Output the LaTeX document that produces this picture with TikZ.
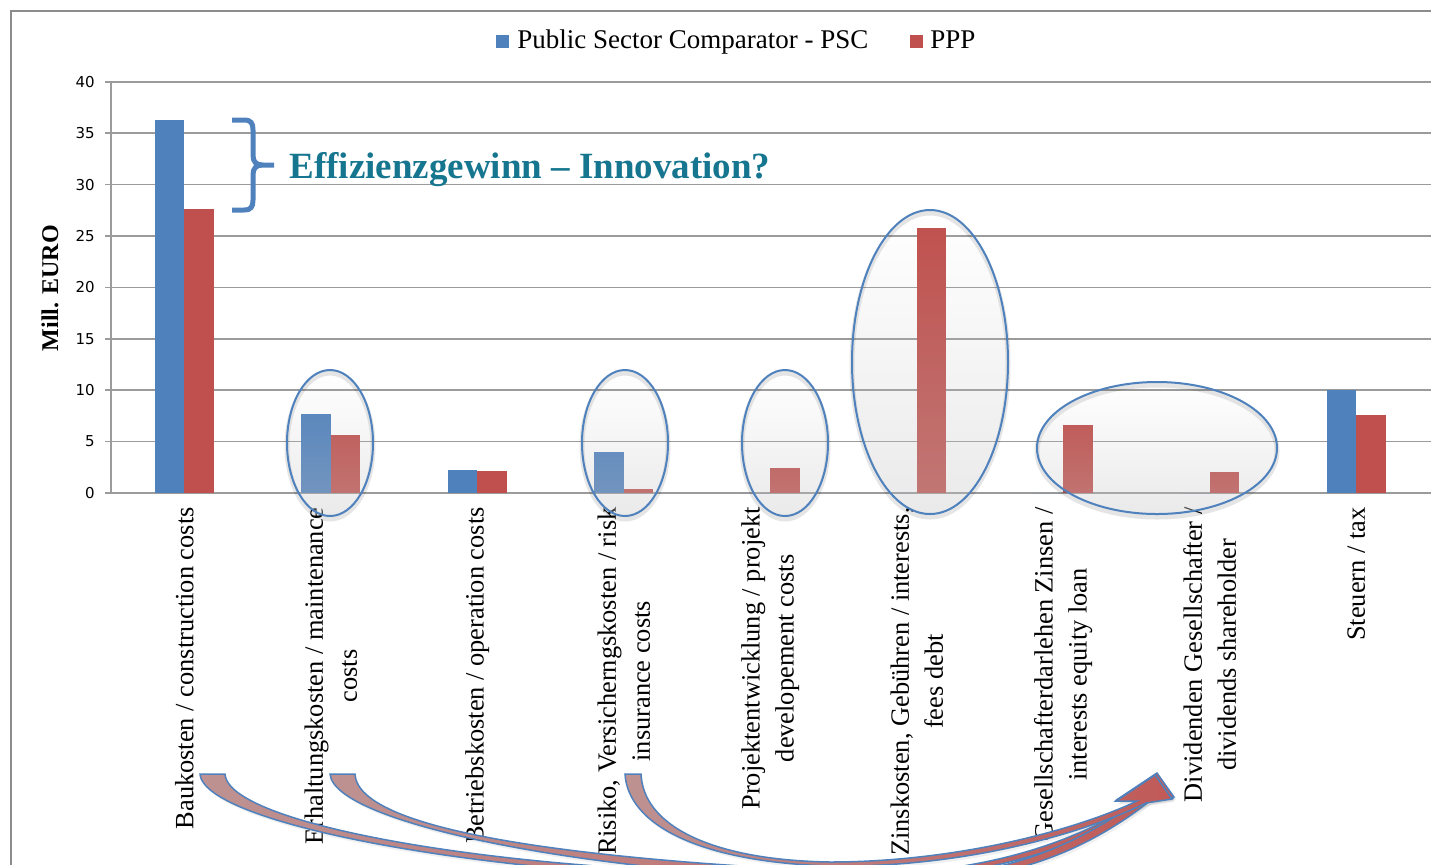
\documentclass[tikz,border=0pt]{standalone}
\usepackage{fontspec}
\setmainfont{Liberation Serif}
\newfontfamily\tickfont{DejaVu Sans}
\usetikzlibrary{positioning, fadings, shadows}

\definecolor{pscblue}{RGB}{79,129,189}
\definecolor{pppred}{RGB}{192,80,77}
\definecolor{gridgray}{RGB}{155,155,155}
\definecolor{framegray}{RGB}{140,140,140}
\definecolor{effteal}{RGB}{23,118,143}
\definecolor{arrowrose}{RGB}{190,146,146}

\tikzfading[name=ellfade, top color=transparent!100, bottom color=transparent!64]

\begin{document}
\begin{tikzpicture}[
  x=0.5pt, y=-0.5pt,
  pscbar/.style={fill=pscblue},
  pppbar/.style={fill=pppred},
  gridline/.style={draw=gridgray, line width=0.75pt},
  ticklabel/.style={
     font=\tickfont\fontsize{7.5}{9}\selectfont,
     anchor=east,
     inner sep=0pt},
  catlabel/.style={
     font=\fontsize{13.2}{17}\selectfont,
     rotate=90,
     anchor=east,
     align=center,
     inner sep=0pt},
  legendtext/.style={
     font=\fontsize{13.5}{15}\selectfont,
     anchor=base west,
     inner sep=0pt},
  ellfill/.style={fill=black!23, path fading=ellfade},
  elline/.style={draw=pscblue, line width=1pt},
  ellshadow/.style={draw=black, opacity=0.10, line width=2.5pt},
  flowarrow/.style={
     left color=arrowrose,
     right color=pppred!85!arrowrose,
     draw=pscblue,
     line width=0.75pt,
     drop shadow={shadow xshift=1pt, shadow yshift=-1.5pt, opacity=0.12}}
  ]
  \useasboundingbox (0,0) rectangle (1431,864);
  \clip (0,0) rectangle (1431,864);

  % frame
  \draw[framegray, line width=1pt] (11,880) -- (11,11) -- (1440,11);

  % legend
  \fill[pscbar] (496,35) rectangle (509,48);
  \node[legendtext] (lgpsc) at (517,48) {Public Sector Comparator - PSC};
  \fill[pppbar] (910,35) rectangle (923,48);
  \node[legendtext] (lgppp) at (930,48) {PPP};

  % grid and axis
  \foreach \v in {0,5,...,40}
    \draw[gridline] (105,{493-10.28*\v}) -- (1431,{493-10.28*\v});
  \draw[gridline] (111,82) -- (111,493);
  \foreach \v in {0,5,...,40}
    \node[ticklabel] (tick\v) at (95,{493-10.28*\v}) {\v};
  \node[rotate=90, font=\bfseries\fontsize{12}{14}\selectfont] (ytitle) at (50,288) {Mill. EURO};

  % bars
  \foreach \c/\a/\b in {184.25/36.3/27.6, 330.75/7.7/5.6, 477.25/2.2/2.1,
      623.75/4.0/0.4, 770.25/0/2.4, 916.75/0/25.8, 1063.25/0/6.6,
      1209.75/0/2.0, 1356.25/10.0/7.6}{
    \fill[pscbar] (\c-29.3,493) rectangle (\c,{493-10.28*\a});
    \fill[pppbar] (\c,493) rectangle (\c+29.3,{493-10.28*\b});
  }

  % brace and title
  \draw[pscblue, line width=2.5pt]
    (232,120) -- (244,120) .. controls (251,120) and (253,123) .. (253,130)
    -- (253,155) .. controls (253,162) and (256,165) .. (263,165) -- (274,165)
    (263,165) .. controls (256,165) and (253,168) .. (253,175)
    -- (253,200) .. controls (253,207) and (251,210) .. (244,210) -- (232,210);
  \node[anchor=base west, inner sep=0pt, text=effteal,
        font=\bfseries\fontsize{18.5}{22}\selectfont] (gain) at (289,178)
        {Effizienzgewinn – Innovation?};

  % category labels
  \node[catlabel] (cat1) at (184.25,507) {Baukosten / construction costs};
  \node[catlabel] (cat2) at (330.75,507) {Erhaltungskosten / maintenance\\costs};
  \node[catlabel] (cat3) at (477.25,507) {Betriebskosten / operation costs};
  \node[catlabel] (cat4) at (623.75,507) {Risiko, Versicherngskosten / risk\\insurance costs};
  \node[catlabel] (cat5) at (770.25,507) {Projektentwicklung / projekt\\developement costs};
  \node[catlabel] (cat6) at (916.75,507) {Zinskosten, Gebühren / interests,\\fees debt};
  \node[catlabel] (cat7) at (1063.25,507) {Gesellschafterdarlehen Zinsen /\\interests equity loan};
  \node[catlabel] (cat8) at (1209.75,507) {Dividenden Gesellschafter /\\dividends shareholder};
  \node[catlabel] (cat9) at (1356.25,507) {Steuern / tax};

  % ellipses
  \draw[ellshadow] (330,446) ellipse [x radius=21.5pt, y radius=36.5pt];
  \draw[ellshadow] (625,446) ellipse [x radius=21.5pt, y radius=36.5pt];
  \draw[ellshadow] (785,446) ellipse [x radius=21.5pt, y radius=36.5pt];
  \draw[ellshadow] (930,365) ellipse [x radius=39pt, y radius=76pt];
  \draw[ellshadow] (1157,451) ellipse [x radius=60pt, y radius=33pt];
  \fill[ellfill] (330,443) ellipse [x radius=21.5pt, y radius=36.5pt];
  \fill[ellfill] (625,443) ellipse [x radius=21.5pt, y radius=36.5pt];
  \fill[ellfill] (785,443) ellipse [x radius=21.5pt, y radius=36.5pt];
  \fill[ellfill] (930,362) ellipse [x radius=39pt, y radius=76pt];
  \fill[ellfill] (1157,448) ellipse [x radius=60pt, y radius=33pt];
  \draw[elline] (330,443) ellipse [x radius=21.5pt, y radius=36.5pt];
  \draw[elline] (625,443) ellipse [x radius=21.5pt, y radius=36.5pt];
  \draw[elline] (785,443) ellipse [x radius=21.5pt, y radius=36.5pt];
  \draw[elline] (930,362) ellipse [x radius=39pt, y radius=76pt];
  \draw[elline] (1157,448) ellipse [x radius=60pt, y radius=33pt];

  % arrows
  \draw[flowarrow] (200,774) .. controls (204,830) and (560,890) .. (880,878)
    .. controls (1000,876) and (1090,842) .. (1148,802) -- (1173,798) -- (1156,774)
    -- (1117,800) -- (1138,800) .. controls (1089,836) and (994,872) .. (880,873)
    .. controls (560,882) and (228,830) .. (225,774) -- cycle;
  \draw[flowarrow] (330,774) .. controls (334,828) and (640,884) .. (930,880)
    .. controls (1030,878) and (1100,840) .. (1150,801) -- (1174,797) -- (1157,773)
    -- (1118,799) -- (1140,799) .. controls (1090,837) and (1014,874) .. (930,875)
    .. controls (650,866) and (358,840) .. (355,774) -- cycle;
  \draw[flowarrow] (625,774) .. controls (628,825) and (700,862) .. (830,866)
    .. controls (960,868) and (1080,835) .. (1146,803) -- (1172,799) -- (1155,775)
    -- (1116,801) -- (1137,801) .. controls (1074,831) and (954,862) .. (830,862)
    .. controls (708,860) and (643,824) .. (641,774) -- cycle;
\end{tikzpicture}
\end{document}
